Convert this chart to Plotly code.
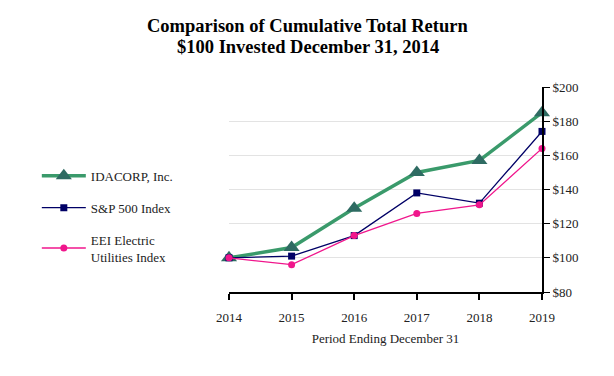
import plotly.graph_objects as go

years = [2014, 2015, 2016, 2017, 2018, 2019]
idacorp = [100, 106, 129, 150, 157, 185]
sp500 = [100, 101, 113, 138, 132, 174]
eei = [100, 96, 113, 126, 131, 164]
y_ticks = [80, 100, 120, 140, 160, 180, 200]
y_tick_labels = ["$" + str(v) for v in y_ticks]

FONT = "Liberation Serif, Times New Roman, serif"

fig = go.Figure()
fig.add_trace(go.Scatter(
    x=years, y=idacorp, name="IDACORP, Inc.", mode="lines+markers",
    line=dict(color="#3a9a6b", width=3.5),
    marker=dict(symbol="triangle-up", size=14, color="#2e6b62"),
    cliponaxis=False, legendgroup="a"))
fig.add_trace(go.Scatter(
    x=years, y=sp500, name="S&P 500 Index", mode="lines+markers",
    line=dict(color="#000066", width=1.3),
    marker=dict(symbol="square", size=7, color="#000066"),
    cliponaxis=False, legendgroup="b"))
fig.add_trace(go.Scatter(
    x=years, y=eei, name="EEI Electric<br>Utilities Index", mode="lines+markers",
    line=dict(color="#f0168c", width=1.3),
    marker=dict(symbol="circle", size=7, color="#f0168c"),
    cliponaxis=False, legendgroup="c"))

# page body has an 8px margin: figure is 598x360 offset by 8px
fig.update_layout(
    width=598, height=360,
    margin=dict(l=221, r=64, t=79, b=76),
    paper_bgcolor="white", plot_bgcolor="white",
    font=dict(family=FONT, size=13, color="#222222"),
    showlegend=True,
    legend=dict(x=-0.614, xanchor="left", y=0.64, yanchor="top",
                font=dict(family=FONT, size=13, color="#222222"),
                itemwidth=44,
                tracegroupgap=12, bgcolor="rgba(0,0,0,0)"),
    xaxis=dict(range=[2014, 2019], tickvals=years, ticktext=[str(y) for y in years],
               showline=True, linecolor="black", linewidth=2,
               ticks="outside", ticklen=6, tickwidth=1.5, tickcolor="black",
               ticklabelstandoff=6,
               showgrid=False, zeroline=False,
               title=dict(text="Period Ending December 31", standoff=10,
                          font=dict(family=FONT, size=13)),
               tickfont=dict(family=FONT, size=13)),
    yaxis=dict(range=[80, 200], side="right", tickvals=y_ticks, ticktext=y_tick_labels,
               showline=True, linecolor="black", linewidth=2,
               ticks="outside", ticklen=6, tickwidth=1, tickcolor="black",
               showgrid=True, gridcolor="#e3e3e3", gridwidth=1, zeroline=False,
               tickfont=dict(family=FONT, size=13)),
    annotations=[
        dict(text="<b>Comparison of Cumulative Total Return</b>", xref="paper", yref="paper",
             x=0.251, y=1.298, xanchor="center", yanchor="middle", showarrow=False,
             font=dict(family=FONT, size=18.5, color="black")),
        dict(text="<b>$100 Invested December 31, 2014</b>", xref="paper", yref="paper",
             x=0.251, y=1.195, xanchor="center", yanchor="middle", showarrow=False,
             font=dict(family=FONT, size=18.5, color="black")),
    ],
)

fig.write_html("out.html")
